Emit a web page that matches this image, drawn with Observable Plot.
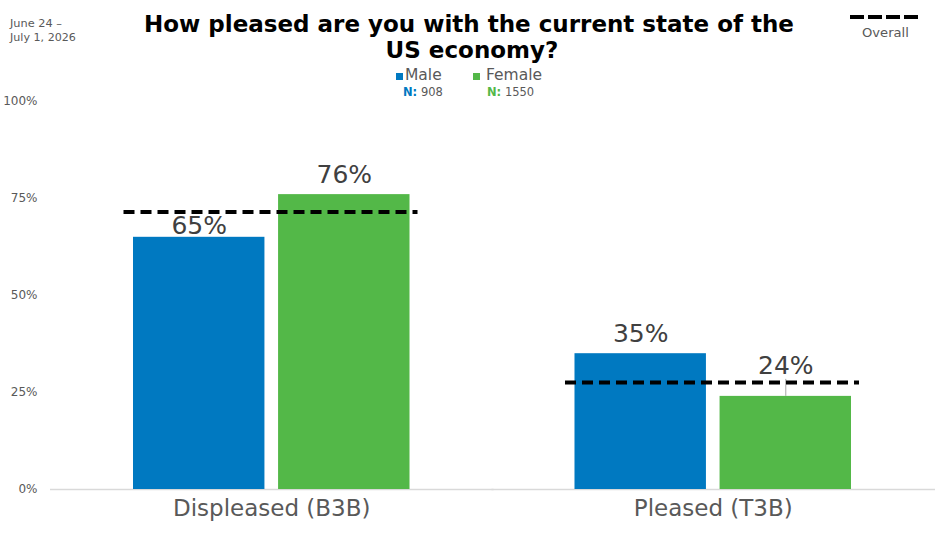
<!DOCTYPE html>
<html><head><meta charset="utf-8">
<script src="https://cdn.jsdelivr.net/npm/d3@7"></script>
<script src="https://cdn.jsdelivr.net/npm/@observablehq/plot@0.6"></script>
<style>
body{margin:0;background:#fff;font-family:"DejaVu Sans",sans-serif;}
#wrap{position:relative;width:936px;height:537px;overflow:hidden;}
.abs{position:absolute;white-space:nowrap;line-height:1;}
</style></head><body><div id="wrap"></div>
<script>
const categories = ["Displeased (B3B)", "Pleased (T3B)"];
const genders = ["Male", "Female"];
const male = [65, 35];
const female = [76, 24];
const overall = [71.5, 27.6];
const sampleN = [908, 1550];
const colors = ["#0079C1", "#53B848"];
const yTicks = [0, 25, 50, 75, 100];
const titleLines = ["How pleased are you with the current state of the", "US economy?"];
const dateLines = ["June 24 \u2013", "July 1, 2026"];

const rows = categories.flatMap((c, i) => [
  {category: c, gender: genders[0], value: male[i]},
  {category: c, gender: genders[1], value: female[i]}
]);
const overallRows = categories.map((c, i) => ({category: c, value: overall[i]}));

const isA = d => d.category === categories[0] && d.gender === genders[0];
const isB = d => d.category === categories[1] && d.gender === genders[1];
const lbl = d => d.value + "%";
const textOpts = {fx: "category", x: "gender", y: "value", text: lbl, fontSize: 25, fill: "#404040", lineAnchor: "middle"};

const outer = 83; // px from frame edge to first facet
const chart = Plot.plot({
  width: 936, height: 537,
  marginTop: 101, marginBottom: 48, marginLeft: 50, marginRight: 2,
  style: {fontFamily: "DejaVu Sans", background: "transparent", overflow: "visible"},
  fx: {domain: categories, paddingInner: 0.3737, paddingOuter: 0.188, round: false, label: null},
  x: {domain: genders, paddingInner: 0.094, paddingOuter: 0, round: false, axis: null},
  y: {domain: [0, 100], axis: null},
  color: {domain: genders, range: colors},
  marks: [
    Plot.axisY({ticks: yTicks, tickFormat: d => d + "%", tickSize: 0, tickPadding: 13, fontSize: 12, color: "#595959", label: null, dx: -outer}),
    Plot.axisFx({anchor: "bottom", tickSize: 0, tickPadding: 10, fontSize: 23, color: "#595959", label: null}),
    Plot.ruleY([0], {stroke: "#d9d9d9", strokeWidth: 1.5, insetLeft: -outer, insetRight: -outer - 1}),
    Plot.barY(rows, {fx: "category", x: "gender", y: "value", fill: "gender"}),
    Plot.ruleX(rows, {filter: isB, fx: "category", x: "gender", y1: "value", y2: "value", insetTop: -17, stroke: "#a6a6a6", strokeWidth: 1}),
    Plot.ruleY(overallRows, {fx: "category", y: "value", stroke: "#000", strokeWidth: 4, strokeDasharray: "11,6", insetLeft: -9.5, insetRight: -8}),
    Plot.text(rows, {...textOpts, filter: d => !isA(d) && !isB(d), dy: -20}),
    Plot.text(rows, {...textOpts, filter: isA, dy: -11}),
    Plot.text(rows, {...textOpts, filter: isB, dy: -30})
  ]
});
const wrap = document.getElementById("wrap");
chart.style.position = "absolute"; chart.style.left = "0"; chart.style.top = "0";
wrap.appendChild(chart);

function add(html, opts) {
  const el = document.createElement("div");
  el.className = "abs";
  el.innerHTML = html;
  el.style.fontSize = (opts.size || 12) + "px";
  if (opts.bold) el.style.fontWeight = "bold";
  el.style.color = opts.color || "#595959";
  wrap.appendChild(el);
  if (opts.width) {
    const w = el.getBoundingClientRect().width;
    el.style.fontSize = (opts.size * opts.width / w) + "px";
  }
  el.style.left = opts.x + "px";
  el.style.top = opts.y + "px";
  el.style.transform = opts.center ? "translate(-50%,-50%)" : "translateY(-50%)";
  return el;
}

// date
add(dateLines[0], {x: 10, y: 24, size: 12, width: 52});
add(dateLines[1], {x: 10, y: 38, size: 12, width: 66});

// title
const t1 = add(titleLines[0], {x: 469, y: 24, size: 24, width: 650, bold: true, color: "#000", center: true});
add(titleLines[1], {x: 472, y: 50, size: parseFloat(t1.style.fontSize), bold: true, color: "#000", center: true});

// legend
const legX = [[396, 405, 403], [473, 486, 487]];
genders.forEach((g, i) => {
  const sq = document.createElement("div");
  sq.style.cssText = `position:absolute;left:${legX[i][0]}px;top:73px;width:7px;height:7px;background:${colors[i]}`;
  wrap.appendChild(sq);
  add(g, {x: legX[i][1], y: 76, size: 15.5});
  add(`<b style="color:${colors[i]}">N:</b> ${sampleN[i]}`, {x: legX[i][2], y: 92.5, size: 11.5});
});

// overall legend
const ns = "http://www.w3.org/2000/svg";
const ls = document.createElementNS(ns, "svg");
ls.setAttribute("width", "80"); ls.setAttribute("height", "10");
ls.style.cssText = "position:absolute;left:848px;top:12px";
const ln = document.createElementNS(ns, "line");
ln.setAttribute("x1", 2); ln.setAttribute("x2", 71); ln.setAttribute("y1", 5); ln.setAttribute("y2", 5);
ln.setAttribute("stroke", "#000"); ln.setAttribute("stroke-width", 4); ln.setAttribute("stroke-dasharray", "14,4");
ls.appendChild(ln); wrap.appendChild(ls);
add("Overall", {x: 862, y: 33, size: 12, width: 47});
</script></body></html>
